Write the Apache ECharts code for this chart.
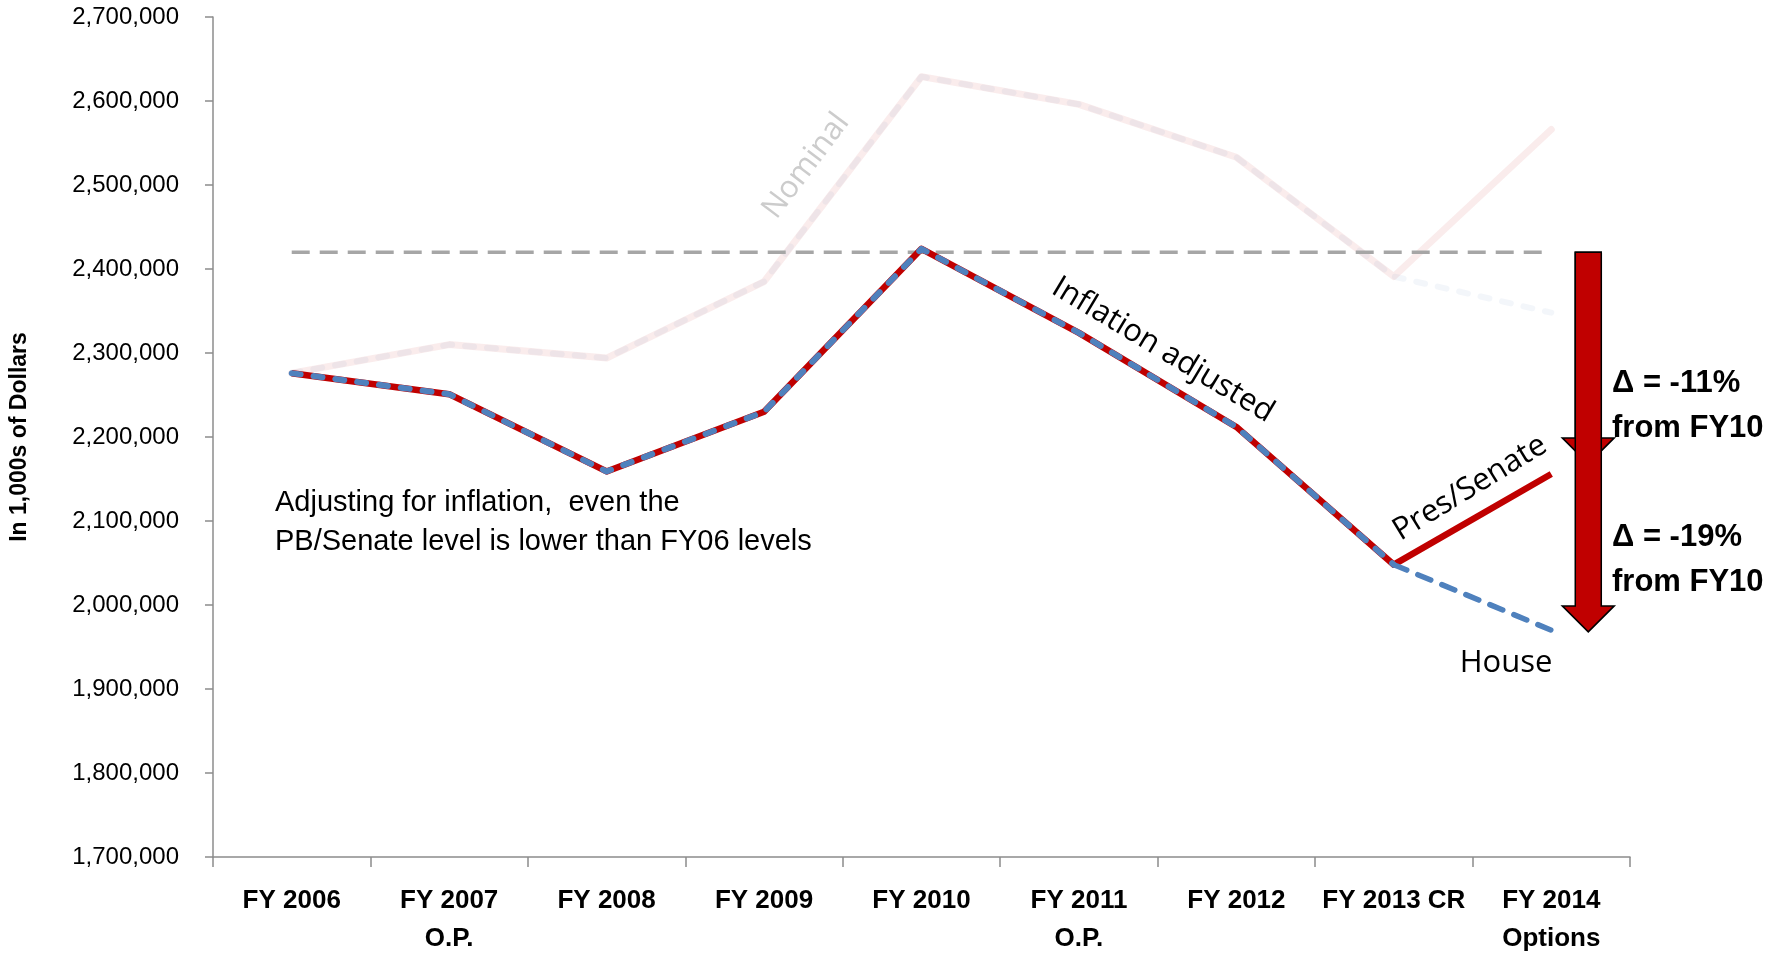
<!DOCTYPE html>
<html>
<head>
<meta charset="utf-8">
<script src="https://cdn.jsdelivr.net/npm/echarts@6/dist/echarts.min.js"></script>
<style>
html,body{margin:0;padding:0;background:#fff;}
#chart{width:1777px;height:958px;}
</style>
</head>
<body>
<div id="chart"></div>
<script>
// ---- data ----
const categories = ['FY 2006', 'FY 2007\nO.P.', 'FY 2008', 'FY 2009', 'FY 2010', 'FY 2011\nO.P.', 'FY 2012', 'FY 2013 CR', 'FY 2014\nOptions'];
const nominal = [2276000, 2310000, 2294000, 2385000, 2629000, 2596000, 2533000, 2391000, 2566000];
const nominalHouseFY14 = 2348000;
const inflationAdjusted = [2276000, 2251000, 2159000, 2230000, 2424000, 2324000, 2212000, 2048000];
const presSenateFY14 = 2156000;
const houseFY14 = 1970000;
const fy10Level = 2420000;
const arrowEnds = [2168000, 1968000];
const yTicks = { min: 1700000, max: 2700000, interval: 100000 };

// ---- helpers ----
const n = categories.length;
const nulls = k => Array.from({ length: k }, () => null);
const tail = (a, b) => nulls(n - 2).concat([a, b]);

const chart = echarts.init(document.getElementById('chart'), null, { renderer: 'canvas' });
const labelFont = 'Liberation Sans, Arial, sans-serif';
const noteFont = 'Open Sans, sans-serif';

const option = {
  animation: false,
  backgroundColor: '#ffffff',
  grid: { left: 210, right: 147, top: 17, bottom: 95, containLabel: false },
  xAxis: {
    type: 'category',
    data: categories,
    boundaryGap: true,
    axisLine: { lineStyle: { color: '#8c8c8c', width: 1.5 } },
    axisTick: { show: true, length: 10, lineStyle: { color: '#8c8c8c', width: 1.5 } },
    axisLabel: { interval: 0, fontFamily: labelFont, fontWeight: 'bold', fontSize: 26, lineHeight: 38, color: '#000', margin: 25 },
    splitLine: { show: false }
  },
  yAxis: {
    type: 'value',
    min: yTicks.min, max: yTicks.max, interval: yTicks.interval,
    name: 'In 1,000s of Dollars',
    nameLocation: 'middle',
    nameRotate: 90,
    nameGap: 182,
    nameTextStyle: { fontFamily: labelFont, fontWeight: 'bold', fontSize: 23, color: '#000' },
    axisLine: { show: true, lineStyle: { color: '#8c8c8c', width: 1.5 } },
    axisTick: { show: true, length: 8, lineStyle: { color: '#8c8c8c', width: 1.5 } },
    axisLabel: {
      fontFamily: labelFont, fontSize: 24, color: '#000', margin: 34,
      formatter: v => v.toLocaleString('en-US')
    },
    splitLine: { show: false }
  },
  series: [
    // nominal (faded)
    { type: 'line', data: nominal, symbol: 'none', silent: true, z: 1,
      lineStyle: { color: 'rgba(192,0,0,0.075)', width: 7, cap: 'round', join: 'round' } },
    { type: 'line', data: nominal.slice(0, n - 1).concat([nominalHouseFY14]), symbol: 'none', silent: true, z: 1,
      lineStyle: { color: 'rgba(79,129,189,0.07)', width: 6, type: [9, 13], cap: 'round', join: 'round' } },
    // FY10 reference level
    { type: 'line', data: categories.map(() => fy10Level), symbol: 'none', silent: true, z: 2,
      lineStyle: { color: '#a6a6a6', width: 3.5, type: [18, 10] } },
    // inflation adjusted: red base, blue dashes
    { type: 'line', data: inflationAdjusted.concat([presSenateFY14]), symbol: 'none', silent: true, z: 3,
      lineStyle: { color: '#c00000', width: 6.5, join: 'round' } },
    { type: 'line', data: inflationAdjusted.concat([null]), symbol: 'none', silent: true, z: 4,
      lineStyle: { color: '#4f81bd', width: 6, type: [9, 13], cap: 'round', join: 'round' } },
    { type: 'line', data: tail(inflationAdjusted[n - 2], houseFY14), symbol: 'none', silent: true, z: 4,
      lineStyle: { color: '#4f81bd', width: 5.5, type: [14, 12], cap: 'round' } },
    // arrows
    { type: 'custom', silent: true, z: 10, clip: false,
      data: arrowEnds.map(v => [n - 1, fy10Level, v]),
      encode: { x: 0, y: [1, 2] },
      renderItem: function (params, api) {
        const band = api.size([1, 0])[0];
        const p0 = api.coord([api.value(0), api.value(1)]);
        const p1 = api.coord([api.value(0), api.value(2)]);
        const cx = p0[0] + band * 0.235;
        const sw = 13, hw = 26, hl = 26;
        const top = p0[1], tip = p1[1], base = tip - hl;
        return {
          type: 'polygon',
          shape: { points: [[cx - sw, top], [cx + sw, top], [cx + sw, base], [cx + hw, base], [cx, tip], [cx - hw, base], [cx - sw, base]] },
          style: { fill: '#c00000', stroke: '#000', lineWidth: 1.5 }
        };
      }
    }
  ],
  graphic: [
    { type: 'text', x: 806, y: 166, rotation: 53 * Math.PI / 180, silent: true,
      style: { text: 'Nominal', font: '31px ' + noteFont, fill: '#cccccc', align: 'center', verticalAlign: 'middle' } },
    { type: 'text', x: 1163, y: 350, rotation: -31 * Math.PI / 180, silent: true,
      style: { text: 'Inflation adjusted', font: '31px ' + noteFont, fill: '#000', align: 'center', verticalAlign: 'middle' } },
    { type: 'text', x: 1470, y: 488, rotation: 31.5 * Math.PI / 180, silent: true,
      style: { text: 'Pres/Senate', font: '31px ' + noteFont, fill: '#000', align: 'center', verticalAlign: 'middle' } },
    { type: 'text', x: 1506, y: 663, silent: true,
      style: { text: 'House', font: '31px ' + noteFont, fill: '#000', align: 'center', verticalAlign: 'middle' } },
    { type: 'text', x: 275, y: 503, silent: true,
      style: { text: 'Adjusting for inflation,  even the', font: '29px ' + labelFont, fill: '#000', align: 'left', verticalAlign: 'middle' } },
    { type: 'text', x: 275, y: 542, silent: true,
      style: { text: 'PB/Senate level is lower than FY06 levels', font: '29px ' + labelFont, fill: '#000', align: 'left', verticalAlign: 'middle' } },
    { type: 'text', x: 1612, y: 383, silent: true,
      style: { text: 'Δ = -11%', font: 'bold 31px ' + labelFont, fill: '#000', align: 'left', verticalAlign: 'middle' } },
    { type: 'text', x: 1612, y: 428, silent: true,
      style: { text: 'from FY10', font: 'bold 31px ' + labelFont, fill: '#000', align: 'left', verticalAlign: 'middle' } },
    { type: 'text', x: 1612, y: 537, silent: true,
      style: { text: 'Δ = -19%', font: 'bold 31px ' + labelFont, fill: '#000', align: 'left', verticalAlign: 'middle' } },
    { type: 'text', x: 1612, y: 582, silent: true,
      style: { text: 'from FY10', font: 'bold 31px ' + labelFont, fill: '#000', align: 'left', verticalAlign: 'middle' } }
  ]
};
chart.setOption(option);
</script>
</body>
</html>
